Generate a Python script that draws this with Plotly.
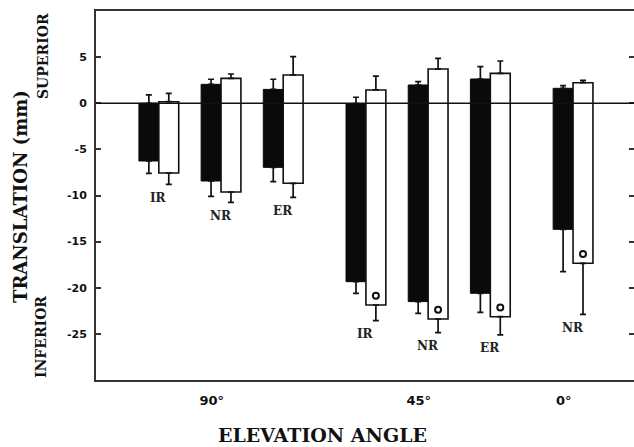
import plotly.graph_objects as go

# ---- data (mm) ----
groups = ["90°", "45°", "0°"]
rotations = ["IR", "NR", "ER", "IR", "NR", "ER", "NR"]
group_of = [0, 0, 0, 1, 1, 1, 2]

black_top = [0.0, 2.05, 1.5, -0.05, 1.98, 2.63, 1.62]
black_bottom = [-6.26, -8.43, -6.95, -19.34, -21.5, -20.6, -13.67]
black_err_up = [0.9, 0.55, 1.1, 0.7, 0.36, 1.33, 0.28]
black_err_down = [1.34, 1.67, 1.55, 1.26, 1.27, 2.06, 4.59]

white_top = [0.17, 2.7, 3.06, 1.44, 3.71, 3.24, 2.23]
white_bottom = [-7.56, -9.62, -8.68, -21.87, -23.39, -23.14, -17.35]
white_err_up = [0.91, 0.47, 1.99, 1.51, 1.16, 1.34, 0.25]
white_err_down = [1.23, 1.12, 1.52, 1.7, 1.48, 1.96, 5.53]

significant = [False, False, False, True, True, True, True]

y_tickvals = [5, 0, -5, -10, -15, -20, -25]
y_ticktext = ["5", "0", "-5", "-10", "-15", "-20", "-25"]

# ---- layout helpers ----
GAP = 0.33
BW = 0.32
n = len(rotations)
pos = [i + GAP * g for i, g in enumerate(group_of)]
bx = [p - BW / 2 for p in pos]
wx = [p + BW / 2 for p in pos]

group_centers = []
for gi in range(len(groups)):
    ps = [pos[i] for i in range(n) if group_of[i] == gi]
    group_centers.append(sum(ps) / len(ps) - 0.15)

W, H = 634, 447
L, T, B, R = 96, 11, 67, 0
pw, ph = W - L - R, H - T - B


def px(x):
    return (x - L) / pw


def py(y):
    return (H - B - y) / ph


def bold(s):
    return "<b>" + s + "</b>"


SERIF = "DejaVu Serif"
SANS = "DejaVu Sans"

fig = go.Figure()

fig.add_trace(go.Bar(
    x=pos, y=[t - b for t, b in zip(black_top, black_bottom)], base=black_bottom,
    width=BW, offset=-BW, marker=dict(color="#0a0a0a", line=dict(color="#0a0a0a", width=1)),
    showlegend=False))
fig.add_trace(go.Bar(
    x=pos, y=[t - b for t, b in zip(white_top, white_bottom)], base=white_bottom,
    width=BW, offset=0, marker=dict(color="white", line=dict(color="#111", width=1.6)),
    showlegend=False))


def err_trace(xs, ys, up, down):
    return go.Scatter(
        x=xs, y=ys, mode="markers",
        marker=dict(size=1, color="rgba(0,0,0,0)"),
        error_y=dict(type="data", symmetric=False, array=up, arrayminus=down,
                     color="#111", thickness=1.7, width=3),
        showlegend=False, hoverinfo="skip")


zeros = [0] * n
fig.add_trace(err_trace(bx, black_top, black_err_up, zeros))
fig.add_trace(err_trace(bx, black_bottom, zeros, black_err_down))
fig.add_trace(err_trace(wx, white_top, white_err_up, zeros))
fig.add_trace(err_trace(wx, white_bottom, zeros, white_err_down))

sx = [wx[i] for i in range(n) if significant[i]]
sy = [white_bottom[i] + 1.0 for i in range(n) if significant[i]]
fig.add_trace(go.Scatter(
    x=sx, y=sy, mode="markers",
    marker=dict(symbol="circle-open", size=6, color="#111", line=dict(width=2)),
    showlegend=False))

# invisible trace to activate the right-hand tick axis
fig.add_trace(go.Scatter(x=[pos[0]], y=[0], yaxis="y2", mode="markers",
                         marker=dict(size=1, color="rgba(0,0,0,0)"),
                         showlegend=False, hoverinfo="skip"))

annotations = []
for i in range(n):
    low = min(black_bottom[i] - black_err_down[i], white_bottom[i] - white_err_down[i])
    annotations.append(dict(
        x=pos[i], y=low - 0.5, xref="x", yref="y", text=bold(rotations[i]),
        showarrow=False, yanchor="top", xanchor="center",
        font=dict(family=SERIF, size=12, color="#222", weight=700)))

annotations += [
    dict(x=px(322), y=py(435), xref="paper", yref="paper", text=bold("ELEVATION ANGLE"),
         showarrow=False, xanchor="center", yanchor="middle", borderpad=0,
         font=dict(family=SERIF, size=19, color="#111", weight=900)),
    dict(x=px(20), y=py(197), xref="paper", yref="paper", text=bold("TRANSLATION (mm)"),
         showarrow=False, textangle=-90, xanchor="center", yanchor="middle",
         font=dict(family=SERIF, size=18, color="#111", weight=900)),
    dict(x=px(43), y=py(56), xref="paper", yref="paper", text=bold("SUPERIOR"),
         showarrow=False, textangle=-90, xanchor="center", yanchor="middle",
         font=dict(family=SERIF, size=14, color="#111", weight=900)),
    dict(x=px(41), y=py(337), xref="paper", yref="paper", text=bold("INFERIOR"),
         showarrow=False, textangle=-90, xanchor="center", yanchor="middle",
         font=dict(family=SERIF, size=14, color="#111", weight=900)),
]

fig.update_layout(
    width=W, height=H, margin=dict(l=L, r=R, t=T, b=B),
    paper_bgcolor="white", plot_bgcolor="white", barmode="overlay",
    annotations=annotations,
    shapes=[dict(type="line", xref="paper", yref="y", x0=0, x1=1, y0=0, y1=0,
                 line=dict(color="#111", width=1.5), layer="above")],
    xaxis=dict(range=[-1.01, 7.64], showgrid=False, zeroline=False,
               showline=True, linecolor="#333", linewidth=2, mirror=True,
               ticks="", tickvals=group_centers, ticktext=[bold(g) for g in groups],
               ticklabelstandoff=7,
               tickfont=dict(family=SANS, size=13, color="#111", weight=900)),
    yaxis=dict(range=[-30, 10], showgrid=False, zeroline=False,
               showline=True, linecolor="#333", linewidth=2, mirror=False,
               ticks="inside", ticklen=5, tickwidth=1.5, tickcolor="#333",
               tickvals=y_tickvals, ticktext=[bold(t) for t in y_ticktext],
               ticklabelstandoff=5,
               tickfont=dict(family=SANS, size=11, color="#111", weight=900)),
    yaxis2=dict(range=[-30, 10], overlaying="y", side="right", showgrid=False,
                zeroline=False, showline=False, showticklabels=False,
                ticks="inside", ticklen=5, tickwidth=1.5, tickcolor="#333",
                tickvals=y_tickvals),
)

fig.write_html("out.html")
